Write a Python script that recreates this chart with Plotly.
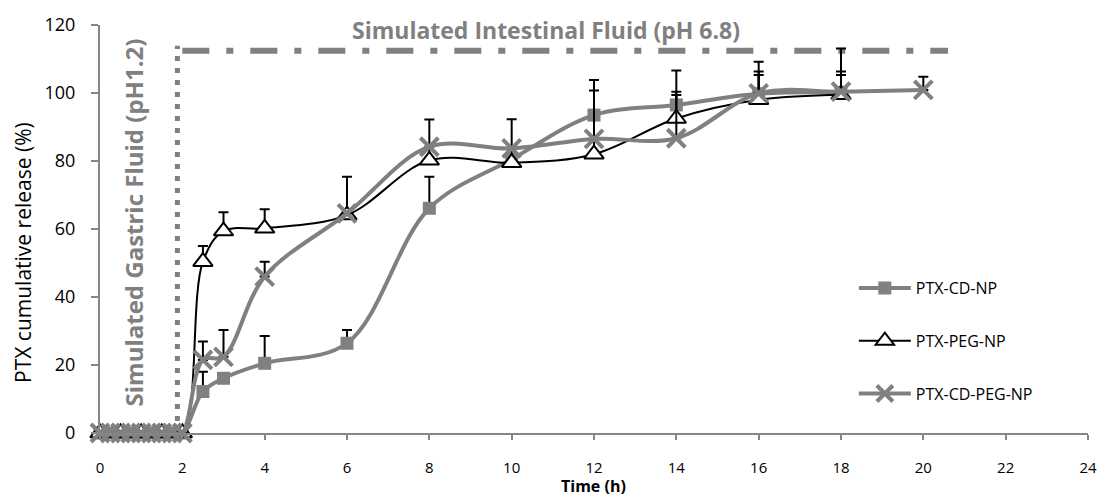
import plotly.graph_objects as go

# ---- data ----
t_cd = [0, 0.25, 0.5, 0.75, 1, 1.25, 1.5, 1.75, 2, 2.5, 3, 4, 6, 8, 10, 12, 14, 16, 18]
cd_np = [0, 0, 0, 0, 0, 0, 0, 0, 0, 12.2, 16.1, 20.5, 26.4, 66.1, 80.5, 93.5, 96.5, 99.8, 100.2]
cd_np_err = [0, 0, 0, 0, 0, 0, 0, 0, 0, 5.8, 0, 8.0, 3.9, 9.3, 0, 10.3, 10.1, 5.5, 5.1]

t_peg = [0, 0.5, 1, 1.5, 2, 2.5, 3, 4, 6, 8, 10, 12, 14, 16, 18]
peg_np = [0, 0, 0, 0, 0, 50.4, 59.4, 60.2, 64.1, 80.2, 79.5, 82.0, 92.5, 98.0, 99.5]
peg_np_err = [0, 0, 0, 0, 0, 4.6, 5.5, 5.6, 11.3, 12.0, 12.8, 18.7, 7.9, 11.2, 13.6]

t_cdpeg = [0, 0.25, 0.5, 0.75, 1, 1.25, 1.5, 1.75, 2, 2.5, 3, 4, 6, 8, 10, 12, 14, 16, 18, 20]
cdpeg_np = [0, 0, 0, 0, 0, 0, 0, 0, 0, 21.5, 22.4, 46.0, 64.6, 84.2, 83.7, 86.5, 86.7, 99.9, 100.4, 100.9]
cdpeg_np_err = [0, 0, 0, 0, 0, 0, 0, 0, 0, 5.4, 7.9, 4.4, 0, 0, 0, 0, 12.7, 6.4, 5.9, 3.9]

x_ticks = [0, 2, 4, 6, 8, 10, 12, 14, 16, 18, 20, 22, 24]
y_ticks = [0, 20, 40, 60, 80, 100, 120]

gastric_x = 1.88
intestinal_y = 112.4
intestinal_end = 20.6

GRAY = "#808080"
AX = "#868686"
FONT = "Open Sans"

fig = go.Figure()

def err(vals):
    return dict(type="data", symmetric=False, array=vals, arrayminus=[0] * len(vals),
                color="black", thickness=2, width=5)

# phase boundary lines
fig.add_trace(go.Scatter(x=[gastric_x, gastric_x], y=[0, intestinal_y + 1.5], mode="lines",
                         line=dict(color=GRAY, width=5, dash="5px,7px"),
                         showlegend=False, hoverinfo="skip"))
fig.add_trace(go.Scatter(x=[2.0, intestinal_end], y=[intestinal_y, intestinal_y], mode="lines",
                         line=dict(color=GRAY, width=6, dash="27px,17px,7px,17px"),
                         showlegend=False, hoverinfo="skip"))

fig.add_trace(go.Scatter(x=t_cd, y=cd_np, name="PTX-CD-NP", mode="lines+markers",
                         line=dict(color=GRAY, width=4, shape="spline", smoothing=1),
                         marker=dict(symbol="square", size=13, color=GRAY),
                         error_y=err(cd_np_err), cliponaxis=False, legendgroup="a"))
fig.add_trace(go.Scatter(x=t_peg, y=peg_np, name="PTX-PEG-NP", mode="lines+markers",
                         line=dict(color="black", width=2, shape="spline", smoothing=1),
                         marker=dict(symbol="triangle-up", size=17, color="white",
                                     line=dict(color="black", width=2)),
                         error_y=err(peg_np_err), cliponaxis=False, legendgroup="b"))
fig.add_trace(go.Scatter(x=t_cdpeg, y=cdpeg_np, name="PTX-CD-PEG-NP", mode="lines+markers",
                         line=dict(color=GRAY, width=4, shape="spline", smoothing=1),
                         marker=dict(symbol="x-thin", size=18, color=GRAY,
                                     line=dict(color=GRAY, width=4)),
                         error_y=err(cdpeg_np_err), cliponaxis=False, legendgroup="c"))

fig.update_layout(
    width=1107, height=496,
    margin=dict(l=100, r=10, t=25, b=63),
    paper_bgcolor="white", plot_bgcolor="white",
    font=dict(family=FONT, color="black"),
    showlegend=True,
    legend=dict(x=0.763, y=0.397, xanchor="left", yanchor="top",
                font=dict(size=16, family=FONT, color="black"),
                itemwidth=52, tracegroupgap=29, bgcolor="rgba(0,0,0,0)"),
    xaxis=dict(range=[0, 24], tickvals=x_ticks, ticktext=[str(v) for v in x_ticks],
               showgrid=False, zeroline=False, showline=True, linecolor=AX, linewidth=2,
               ticks="outside", ticklen=5, tickcolor=AX, tickwidth=1.5,
               tickfont=dict(size=15, family=FONT), ticklabelstandoff=15),
    yaxis=dict(range=[0, 120], tickvals=y_ticks, ticktext=[str(v) for v in y_ticks],
               showgrid=False, zeroline=False, showline=True, linecolor=AX, linewidth=2,
               ticks="outside", ticklen=7, tickcolor=AX, tickwidth=1.5,
               tickfont=dict(size=18, family=FONT), ticklabelstandoff=12),
    annotations=[
        dict(text="<b>Simulated Intestinal Fluid (pH 6.8)</b>", xref="paper", yref="paper",
             x=0.4514, y=0.988, xanchor="center", yanchor="middle", showarrow=False,
             font=dict(size=23, family=FONT, color=GRAY)),
        dict(text="<b>Simulated Gastric Fluid (pH1.2)</b>", xref="paper", yref="paper",
             x=0.0334, y=0.516, xanchor="center", yanchor="middle", showarrow=False,
             textangle=-90, font=dict(size=24, family=FONT, color=GRAY)),
        dict(text="PTX cumulative release (%)", xref="paper", yref="paper",
             x=-0.078, y=0.4436, xanchor="center", yanchor="middle", showarrow=False,
             textangle=-90, font=dict(size=21, family=FONT, color="black")),
        dict(text="<b>Time (h)</b>", xref="paper", yref="paper",
             x=0.4995, y=-0.1305, xanchor="center", yanchor="middle", showarrow=False,
             font=dict(size=16, family=FONT, color="black")),
    ],
)

fig.write_html("out.html")
